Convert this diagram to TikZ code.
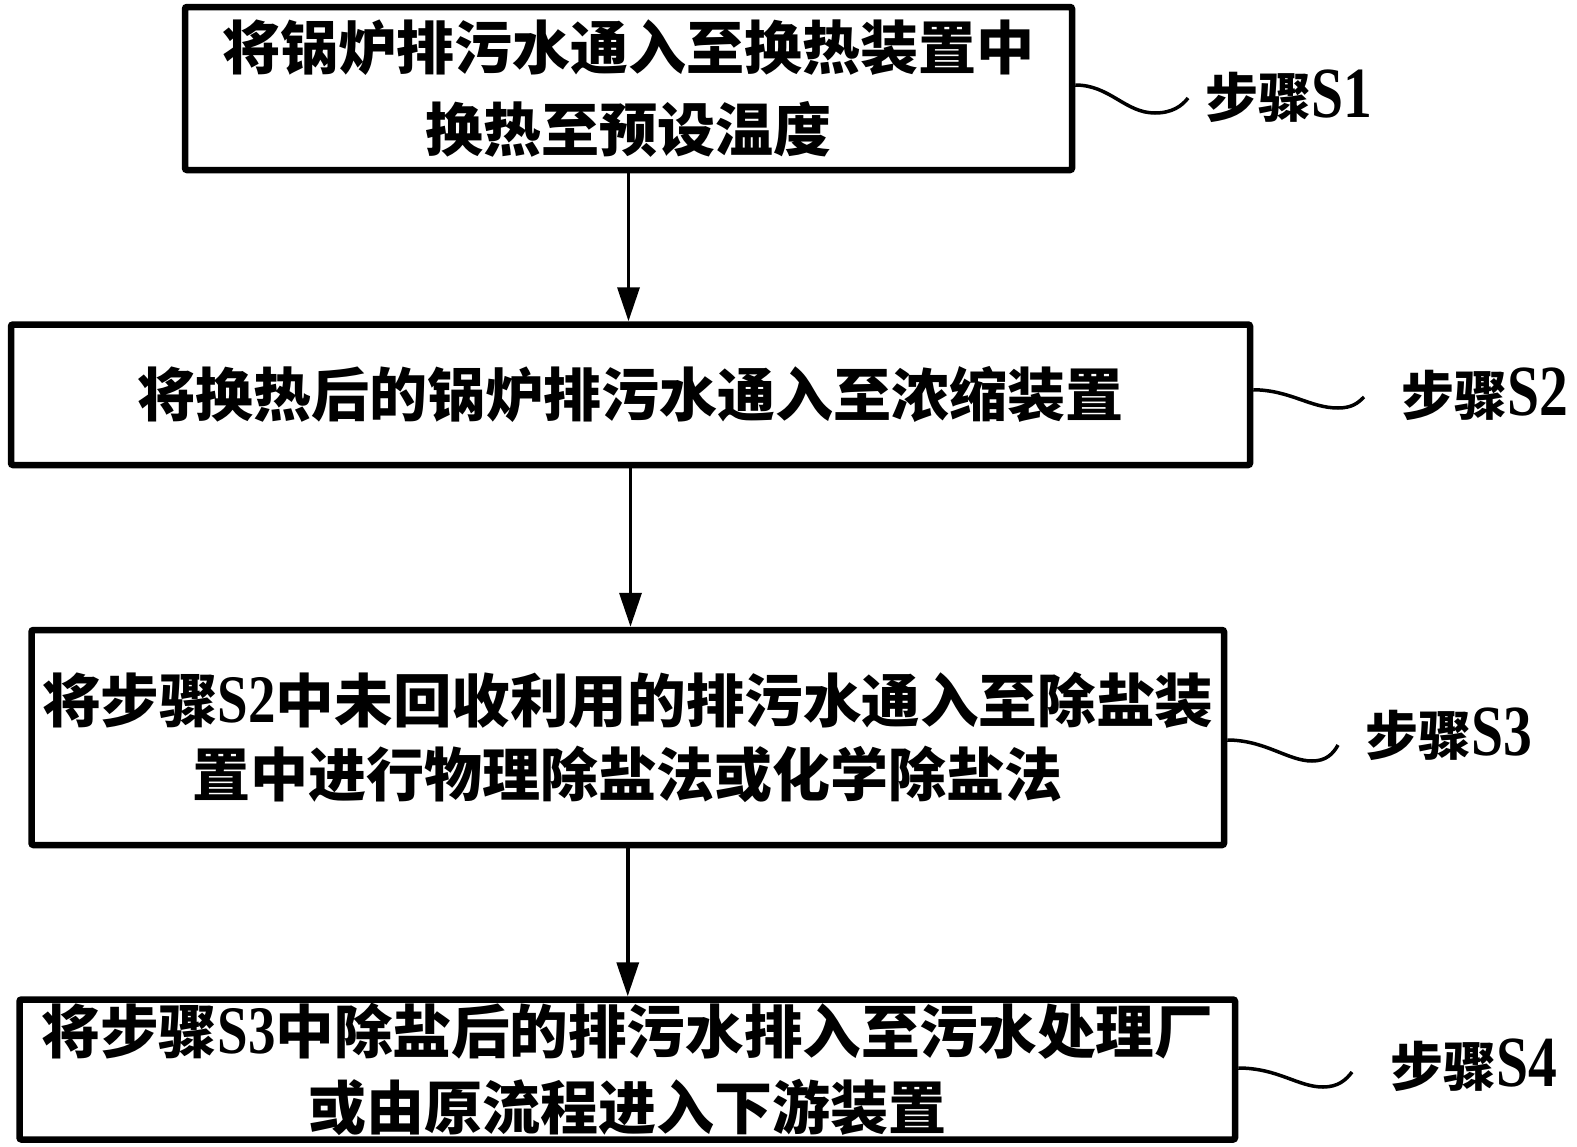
\documentclass[tikz,border=0pt]{standalone}
\usepackage{fontspec}
\newfontfamily\cjk{Noto Sans CJK SC}
\newfontfamily\lat{Liberation Serif}
\usetikzlibrary{arrows.meta}
\newcommand{\snum}[2][68]{\scalebox{0.8}[1]{\lat\bfseries\fontsize{#1}{#1}\selectfont #2}}
\begin{document}
\begin{tikzpicture}[x=1pt,y=-1pt,
  box/.style={draw, line width=6.5pt, rounded corners=2pt, inner sep=0pt, align=center},
  flow/.style={line width=3.5pt, -{Triangle[length=34pt,width=22pt]}},
  wave/.style={line width=3.5pt},
  steplabel/.style={anchor=west, inner sep=0pt, font=\cjk\bfseries\fontsize{53}{53}\selectfont}]
\useasboundingbox (0,0) rectangle (1577,1146);
\fill[white] (0,0) rectangle (1577,1146);

\node[box, minimum width=887pt, minimum height=163pt, font=\cjk\bfseries\fontsize{58}{82}\selectfont] (b1) at (628.5,88.5) {将锅炉排污水通入至换热装置中\\换热至预设温度};
\node[box, minimum width=1239pt, minimum height=140.5pt, font=\cjk\bfseries\fontsize{58}{58}\selectfont] (b2) at (630.5,394.75) {将换热后的锅炉排污水通入至浓缩装置};
\node[box, minimum width=1192.5pt, minimum height=215pt, font=\cjk\bfseries\fontsize{58}{74}\selectfont] (b3) at (627.75,737.5) {\scalebox{1.01}[1]{将步骤\snum{S2}中未回收利用的排污水通入至除盐装}\\置中进行物理除盐法或化学除盐法};
\node[box, minimum width=1215.5pt, minimum height=140pt, font=\cjk\bfseries\fontsize{58}{76}\selectfont] (b4) at (627.25,1069.5) {\scalebox{1.01}[1]{将步骤\snum{S3}中除盐后的排污水排入至污水处理厂}\\或由原流程进入下游装置};

\draw[flow] (b1.south) -- (b1.south |- b2.north);
\draw[flow] (b2.south) -- (b2.south |- b3.north);
\draw[flow] (b3.south) -- (b3.south |- b4.north);

\coordinate (w1) at (1188,98);
\coordinate (w2) at (1364,397);
\coordinate (w3) at (1338,745);
\coordinate (w4) at (1352,1072);

\draw[wave] ([yshift=3.5pt]b1.east) .. controls (1110,85) and (1125,113) .. (1155,113) .. controls (1172,113) and (1182,106) .. (w1);
\draw[wave] ([yshift=5pt]b2.east) .. controls (1290,390) and (1310,408) .. (1338,408) .. controls (1352,408) and (1358,403) .. (w2);
\draw[wave] ([yshift=-2.5pt]b3.east) .. controls (1265,740) and (1288,761) .. (1312,761) .. controls (1326,761) and (1333,754) .. (w3);
\draw[wave] ([yshift=1.5pt]b4.east) .. controls (1278,1068) and (1298,1087) .. (1323,1087) .. controls (1338,1087) and (1346,1080) .. (w4);

\node[steplabel] (l1) at (1205,96) {步骤\snum[72]{S1}};
\node[steplabel] (l2) at (1401,394) {步骤\snum[72]{S2}};
\node[steplabel] (l3) at (1365,734) {步骤\snum[72]{S3}};
\node[steplabel] (l4) at (1390,1065) {步骤\snum[72]{S4}};
\end{tikzpicture}
\end{document}
